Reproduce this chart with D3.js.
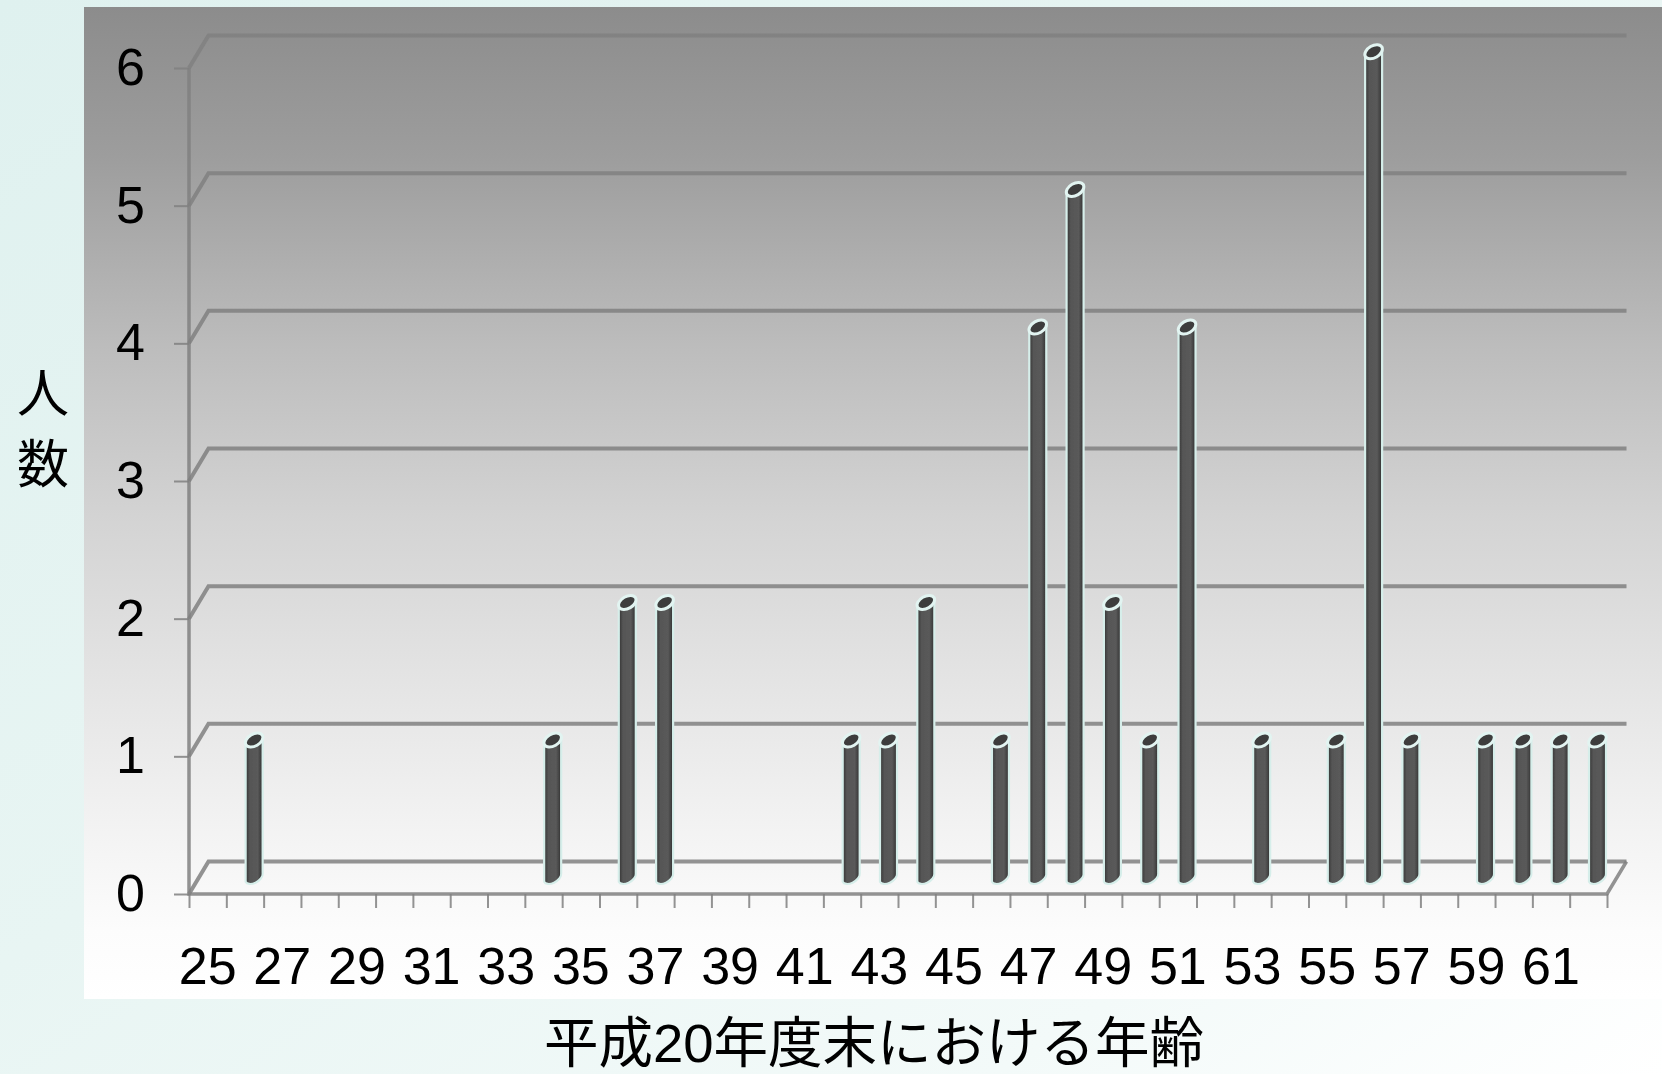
<!DOCTYPE html>
<html>
<head>
<meta charset="utf-8">
<script src="https://cdn.jsdelivr.net/npm/d3@7"></script>
<style>
  html, body { margin: 0; padding: 0; background: #fff; }
  svg { display: block; }
  text { font-family: "Liberation Sans", Arial, sans-serif; fill: #000; }
</style>
</head>
<body>
<script>
// ages on the x axis, every second one gets a label
const ages = d3.range(25, 63);
const xLabels = d3.range(25, 62, 2);
const yLabels = [0, 1, 2, 3, 4, 5, 6];

// people per age, ages not listed are 0
const barAges = [26, 34, 36, 37, 42, 43, 44, 46, 47, 48, 49, 50, 51, 53, 55, 56, 57, 59, 60, 61, 62];
const barValues = [1, 1, 2, 2, 1, 1, 2, 1, 4, 5, 2, 1, 4, 1, 1, 6, 1, 1, 1, 1, 1];

const xTitle = "平成20年度末における年齢";
const yTitle = ["人", "数"];

const width = 1662, height = 1074;
const frontLeft = 189, frontRight = 1607, frontBottom = 894, frontTop = 68;
const depthX = 19.5, depthY = -32.5;
const barWidth = 17;

const svg = d3.select("body").append("svg")
    .attr("width", width)
    .attr("height", height);

const defs = svg.append("defs");

// page background
const bgGrad = defs.append("linearGradient").attr("id", "bgGrad")
    .attr("x1", 0).attr("y1", 0).attr("x2", 1).attr("y2", 1);
[[0, "#dff1ef"], [0.45, "#e8f5f3"], [0.8, "#f3faf9"], [1, "#ffffff"]].forEach(s => {
    bgGrad.append("stop").attr("offset", s[0]).attr("stop-color", s[1]);
});

// chart panel
const panelGrad = defs.append("linearGradient").attr("id", "panelGrad")
    .attr("x1", 0).attr("y1", 0).attr("x2", 0).attr("y2", 1);
[[0, "#8c8c8c"], [0.15, "#9d9d9d"], [0.34, "#bcbcbc"], [0.52, "#d4d4d4"], [0.8, "#f0f0f0"], [0.93, "#fcfcfc"], [1, "#ffffff"]].forEach(s => {
    panelGrad.append("stop").attr("offset", s[0]).attr("stop-color", s[1]);
});

// cylinder shading
const barGrad = defs.append("linearGradient").attr("id", "barGrad")
    .attr("x1", 0).attr("y1", 0).attr("x2", 1).attr("y2", 0);
[[0, "#333333"], [0.25, "#565656"], [0.7, "#5a5a5a"], [1, "#303030"]].forEach(s => {
    barGrad.append("stop").attr("offset", s[0]).attr("stop-color", s[1]);
});

// slight softening, the source is a scaled-up screenshot
const soft = defs.append("filter").attr("id", "soft");
soft.append("feGaussianBlur").attr("stdDeviation", 0.6);

svg.append("rect").attr("width", width).attr("height", height).attr("fill", "url(#bgGrad)");
svg.append("rect")
    .attr("x", 84).attr("y", 7)
    .attr("width", width - 84).attr("height", 992)
    .attr("fill", "url(#panelGrad)");

const x = d3.scaleBand().domain(ages).range([frontLeft, frontRight]);
const xEdge = d3.scaleLinear().domain([25, 63]).range([frontLeft, frontRight]);
const y = d3.scaleLinear().domain([0, 6]).range([frontBottom, frontTop]);

const lineColor = "#808080";

// gridlines, running back from the left wall and along the back
svg.append("g").attr("filter", "url(#soft)").selectAll("path")
    .data(yLabels)
    .join("path")
    .attr("fill", "none")
    .attr("stroke", lineColor)
    .attr("stroke-opacity", 0.85)
    .attr("stroke-width", 4)
    .attr("d", d => `M${frontLeft},${y(d)}L${frontLeft + depthX},${y(d) + depthY}L${frontRight + depthX},${y(d) + depthY}`);

// left wall and floor edge
svg.append("path")
    .attr("filter", "url(#soft)")
    .attr("fill", "none")
    .attr("stroke", lineColor)
    .attr("stroke-opacity", 0.85)
    .attr("stroke-width", 3.5)
    .attr("d", `M${frontLeft},${y(6)}L${frontLeft},${y(0)}L${frontRight},${y(0)}L${frontRight + depthX},${y(0) + depthY}`);

// y axis
const yAxis = svg.append("g")
    .attr("transform", `translate(${frontLeft},0)`)
    .call(d3.axisLeft(y).tickValues(yLabels).tickSize(15).tickPadding(29).tickFormat(d3.format("d")));
yAxis.select(".domain").remove();
yAxis.selectAll("line").attr("stroke", lineColor).attr("stroke-opacity", 0.85).attr("stroke-width", 2);
yAxis.selectAll("text").attr("font-size", 52).attr("font-family", "Liberation Sans");

// x axis tick marks sit on the band edges
const xTicks = svg.append("g")
    .attr("transform", `translate(0,${frontBottom})`)
    .call(d3.axisBottom(xEdge).tickValues(d3.range(25, 64)).tickSize(14).tickFormat(""));
xTicks.select(".domain").remove();
xTicks.selectAll("line").attr("stroke", lineColor).attr("stroke-opacity", 0.85).attr("stroke-width", 2);

// x axis labels sit on the band centres
const xAxis = svg.append("g")
    .attr("transform", `translate(0,${frontBottom})`)
    .call(d3.axisBottom(x).tickValues(xLabels).tickSize(0).tickPadding(53));
xAxis.select(".domain").remove();
xAxis.selectAll("text").attr("font-size", 52).attr("font-family", "Liberation Sans");

// bars
const bars = svg.append("g").attr("filter", "url(#soft)").selectAll("g")
    .data(barAges.map((a, i) => ({ age: a, value: barValues[i] })))
    .join("g")
    .attr("transform", d => `translate(${x(d.age) + x.bandwidth() / 2 + depthX * 0.47},${depthY / 2})`);

bars.append("path")
    .attr("fill", "url(#barGrad)")
    .attr("stroke", "#d6eeea")
    .attr("stroke-width", 2.2)
    .attr("d", d => {
        const r = barWidth / 2;
        const top = y(d.value), bottom = y(0);
        return `M${-r},${top + 5}L${-r},${bottom + 4}A${r + 1} 5.5 -30 0 0 ${r},${bottom - 4}L${r},${top - 4}Z`;
    });

bars.append("ellipse")
    .attr("cy", d => y(d.value))
    .attr("rx", 9.5)
    .attr("ry", 6)
    .attr("transform", d => `rotate(-30 0 ${y(d.value)})`)
    .attr("fill", "#3c3c3c")
    .attr("stroke", "#e2f4f1")
    .attr("stroke-width", 3);

// titles
svg.selectAll(".ytitle")
    .data(yTitle)
    .join("text")
    .attr("class", "ytitle")
    .attr("x", 43)
    .attr("y", (d, i) => 412 + i * 71)
    .attr("text-anchor", "middle")
    .attr("font-size", 52)
    .style("font-family", "'Noto Sans CJK JP', sans-serif")
    .text(d => d);

svg.append("text")
    .attr("x", 874)
    .attr("y", 1062)
    .attr("text-anchor", "middle")
    .attr("font-size", 54.5)
    .style("font-family", "'Liberation Sans', 'Noto Sans CJK JP', sans-serif")
    .text(xTitle);
</script>
</body>
</html>
